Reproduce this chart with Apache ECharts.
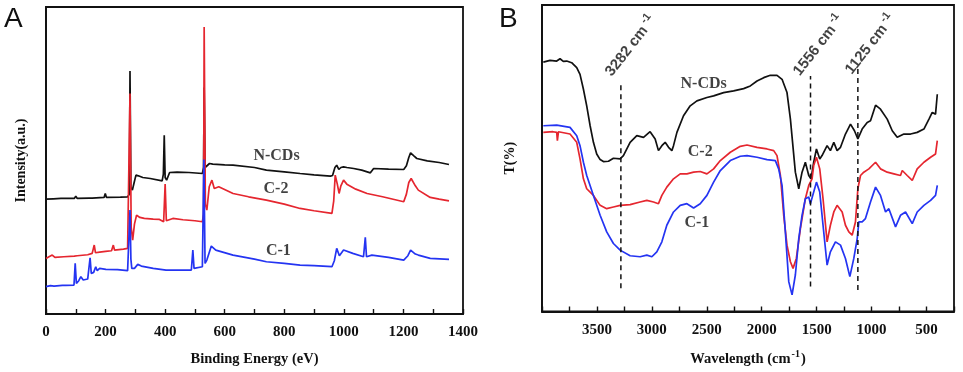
<!DOCTYPE html>
<html>
<head>
<meta charset="utf-8">
<script src="https://cdn.jsdelivr.net/npm/echarts@6/dist/echarts.min.js"></script>
<style>html,body{margin:0;padding:0;background:#fff;}#c{width:963px;height:372px;}</style>
</head>
<body>
<div id="c"></div>
<script>
// ---------- Panel A: XPS survey (Binding Energy eV, intensity a.u.) ----------
var xpsNCDs = [[0,345],[25,346],[50,347],[95,347],[100,354],[105,347],[145,348],[150,354],[155,348],[195,350],[199,362],[203,350],[250,351],[274,352],[280,360],[282,730],[285,380],[290,372],[296,395],[302,417],[310,415],[325,410],[350,407],[390,400],[394,420],[397,537],[400,410],[405,402],[415,425],[420,428],[440,426],[480,425],[525,422],[529,440],[531,680],[534,440],[540,440],[549,452],[560,450],[600,448],[628,447],[700,440],[740,432],[800,427],[853,422],[900,418],[955,414],[962,416],[970,440],[976,447],[983,434],[990,440],[999,442],[1010,440],[1033,437],[1060,432],[1089,424],[1095,426],[1100,437],[1150,435],[1201,434],[1210,445],[1218,470],[1224,484],[1235,475],[1245,467],[1280,460],[1320,455],[1353,449]];
var xpsC2 = [[0,167],[10,172],[21,177],[30,170],[60,172],[95,174],[100,180],[105,175],[140,178],[155,182],[162,207],[166,184],[180,186],[200,188],[220,190],[226,207],[230,192],[260,195],[274,197],[280,200],[282,662],[286,260],[291,222],[297,270],[304,297],[315,290],[330,287],[360,285],[381,284],[395,277],[400,390],[404,280],[426,287],[460,283],[500,280],[525,277],[529,300],[531,862],[535,330],[540,312],[548,382],[557,402],[565,377],[580,382],[628,362],[680,352],[740,342],[800,330],[853,317],[900,310],[960,302],[966,340],[971,417],[978,390],[984,362],[990,385],[999,402],[1010,390],[1040,375],[1078,362],[1130,352],[1201,337],[1210,360],[1218,395],[1226,407],[1240,385],[1250,372],[1290,350],[1320,345],[1353,340]];
var xpsC1 = [[0,82],[15,85],[21,90],[27,84],[55,86],[61,92],[66,86],[94,87],[98,152],[102,92],[110,100],[117,112],[125,102],[140,105],[145,107],[148,169],[152,122],[160,125],[167,142],[172,130],[180,137],[201,134],[240,133],[274,130],[280,135],[282,312],[285,165],[288,137],[297,137],[308,149],[320,144],[360,137],[403,132],[450,132],[488,132],[493,192],[497,137],[525,142],[530,464],[534,152],[540,162],[555,204],[570,192],[628,177],[700,165],[740,157],[800,152],[853,147],[900,145],[960,142],[968,160],[976,197],[985,175],[999,192],[1030,182],[1066,172],[1072,230],[1076,172],[1094,177],[1150,170],[1201,162],[1215,175],[1224,192],[1240,180],[1250,177],[1290,167],[1353,164]];
var xpsLabels = [["N-CDs",774,474],["C-2",772,377],["C-1",780,190]];

// ---------- Panel B: FTIR (wavenumber cm-1, transmittance a.u.) ----------
var ftirNCDs = [[3988,752],[3927,757],[3866,755],[3836,762],[3806,754],[3775,755],[3730,750],[3684,735],[3654,715],[3623,670],[3593,620],[3562,560],[3532,510],[3502,475],[3471,458],[3441,452],[3395,453],[3350,462],[3289,460],[3259,470],[3198,510],[3137,530],[3076,525],[3016,542],[2970,520],[2940,485],[2909,500],[2879,510],[2848,495],[2818,485],[2803,500],[2772,540],[2712,590],[2651,620],[2590,635],[2499,645],[2438,650],[2347,660],[2256,665],[2165,672],[2104,680],[2043,695],[1982,705],[1922,712],[1861,712],[1815,700],[1770,660],[1739,580],[1694,420],[1663,370],[1633,420],[1603,450],[1572,410],[1551,400],[1527,450],[1502,490],[1472,460],[1451,470],[1405,500],[1375,485],[1344,510],[1314,485],[1283,495],[1238,535],[1192,565],[1156,545],[1125,520],[1086,550],[1040,570],[1010,575],[995,590],[964,622],[919,610],[858,580],[812,545],[767,525],[706,535],[645,535],[585,540],[524,550],[478,580],[448,600],[418,595],[402,655]];
var ftirC2 = [[3988,540],[3900,542],[3866,540],[3860,515],[3850,542],[3745,535],[3684,510],[3654,460],[3623,400],[3593,370],[3532,350],[3471,320],[3411,310],[3350,315],[3289,320],[3198,322],[3107,330],[3046,335],[2985,330],[2940,325],[2909,350],[2864,375],[2803,400],[2742,415],[2681,415],[2620,420],[2560,422],[2499,415],[2438,430],[2377,455],[2286,480],[2195,498],[2134,502],[2043,495],[1952,490],[1891,485],[1861,470],[1830,410],[1800,290],[1770,200],[1739,150],[1715,130],[1685,160],[1648,250],[1603,340],[1572,380],[1542,400],[1527,440],[1502,465],[1472,430],[1442,340],[1405,210],[1375,260],[1344,300],[1314,320],[1268,300],[1238,260],[1207,240],[1177,230],[1147,270],[1125,370],[1101,410],[1071,420],[1025,430],[964,450],[919,430],[858,420],[797,415],[737,410],[721,425],[676,410],[630,395],[585,430],[524,450],[463,465],[418,475],[402,515]];
var ftirC1 = [[3988,560],[3866,562],[3745,555],[3684,530],[3654,500],[3623,450],[3593,410],[3532,350],[3471,290],[3411,240],[3350,205],[3289,185],[3198,168],[3107,165],[3046,170],[3000,165],[2955,180],[2909,210],[2864,260],[2803,300],[2742,320],[2681,325],[2620,312],[2560,325],[2499,350],[2438,390],[2377,425],[2286,455],[2195,468],[2134,470],[2043,465],[1952,458],[1876,455],[1846,430],[1815,380],[1785,240],[1754,90],[1724,50],[1694,110],[1663,220],[1633,290],[1603,340],[1572,345],[1557,325],[1527,360],[1502,390],[1472,360],[1442,260],[1405,140],[1375,180],[1329,210],[1283,200],[1238,160],[1198,105],[1162,160],[1131,220],[1116,270],[1086,270],[1056,280],[1010,330],[964,375],[919,350],[873,300],[843,310],[782,255],[737,290],[691,300],[630,265],[585,300],[524,320],[463,335],[418,350],[402,380]];
var ftirLabels = [["N-CDs",2529,685],["C-2",2560,480],["C-1",2590,268]];
var peakWavenumbers = [3282, 1556, 1125];
var peakLineRanges = [[70,690],[75,710],[65,735]];
var peakTextPos = [[3192,800],[1481,802],[1010,805]];

var RED = '#e5262f', BLUE = '#2434f2', BLACK = '#111';
var serif = '"Liberation Serif","Times New Roman",serif';
var sans = '"Liberation Sans",Arial,sans-serif';

function lineSeries(data, color, xi) {
  return {type:'line', data:data, xAxisIndex:xi, yAxisIndex:xi, symbol:'none',
    lineStyle:{color:color, width:1.7}, itemStyle:{color:color}, silent:true, animation:false, z:3};
}
function textSeries(list, xi) {
  return {type:'scatter', xAxisIndex:xi, yAxisIndex:xi, symbolSize:0, silent:true, animation:false, z:5,
    data:list.map(function(l){return {value:[l[1],l[2]], name:l[0]};}),
    label:{show:true, position:'inside', formatter:function(p){return p.name;},
      color:'#111', fontFamily:serif, fontWeight:'bold', fontSize:16}};
}

var series = [
  lineSeries(xpsNCDs, BLACK, 0), lineSeries(xpsC2, RED, 0), lineSeries(xpsC1, BLUE, 0),
  lineSeries(ftirNCDs, BLACK, 1), lineSeries(ftirC2, RED, 1), lineSeries(ftirC1, BLUE, 1),
  textSeries(xpsLabels, 0), textSeries(ftirLabels, 1)
];
peakWavenumbers.forEach(function(w, i){
  series.push({type:'line', xAxisIndex:1, yAxisIndex:1, symbol:'none', silent:true, animation:false, z:4,
    data:[[w, peakLineRanges[i][0]],[w, peakLineRanges[i][1]]],
    lineStyle:{color:'#111', width:1.5, type:[5,4]}});
  series.push({type:'scatter', xAxisIndex:1, yAxisIndex:1, symbolSize:0, silent:true, animation:false, z:5,
    data:[{value:peakTextPos[i], name:String(w)}],
    label:{show:true, position:'inside', rotate:52,
      formatter:function(p){return '{n|'+p.name+' cm}{s|-1}';},
      rich:{n:{fontFamily:sans, fontWeight:'bold', fontSize:15, color:'#111', lineHeight:18},
            s:{fontFamily:sans, fontWeight:'bold', fontSize:11, color:'#111', padding:[0,0,10,3]}}}});
});

var axisCommon = {
  axisLine:{show:true, onZero:false, lineStyle:{color:'#111', width:1.8}},
  splitLine:{show:false}
};

var option = {
  animation:false,
  backgroundColor:'#fff',
  grid:[
    {left:46, right:500, top:7, bottom:58, show:true, borderColor:'#111', borderWidth:1.8, backgroundColor:'transparent'},
    {left:542, right:9, top:5, bottom:59, show:true, borderColor:'#111', borderWidth:1.8, backgroundColor:'transparent'}
  ],
  xAxis:[
    Object.assign({}, axisCommon, {type:'value', gridIndex:0, min:0, max:1400, interval:100,
      axisTick:{show:true, inside:true, length:5, lineStyle:{color:'#111', width:1.4}},
      axisLabel:{margin:11, color:'#111', fontFamily:serif, fontWeight:'bold', fontSize:15,
        formatter:function(v){return v % 200 === 0 ? String(v) : '';}},
      name:'Binding Energy (eV)', nameLocation:'middle', nameGap:38,
      nameTextStyle:{color:'#111', fontFamily:serif, fontWeight:'bold', fontSize:14.5}}),
    Object.assign({}, axisCommon, {type:'value', gridIndex:1, min:250, max:4000, interval:250, inverse:true,
      axisTick:{show:true, inside:true, length:5, lineStyle:{color:'#111', width:1.4}},
      axisLabel:{margin:11, color:'#111', fontFamily:serif, fontWeight:'bold', fontSize:15,
        formatter:function(v){return (v % 500 === 0 && v < 4000) ? String(v) : '';}},
      name:'{n|Wavelength (cm}{s|-1}{n|)}', nameLocation:'middle', nameGap:38,
      nameTextStyle:{rich:{n:{color:'#111', fontFamily:serif, fontWeight:'bold', fontSize:14.5, lineHeight:18},
        s:{color:'#111', fontFamily:serif, fontWeight:'bold', fontSize:10, padding:[0,1,10,1]}}}})
  ],
  yAxis:[
    Object.assign({}, axisCommon, {type:'value', gridIndex:0, min:0, max:922,
      axisTick:{show:false}, axisLabel:{show:false},
      name:'Intensity(a.u.)', nameLocation:'middle', nameGap:18,
      nameTextStyle:{color:'#111', fontFamily:serif, fontWeight:'bold', fontSize:14}}),
    Object.assign({}, axisCommon, {type:'value', gridIndex:1, min:0, max:924,
      axisTick:{show:false}, axisLabel:{show:false},
      name:'T(%)', nameLocation:'middle', nameGap:25,
      nameTextStyle:{color:'#111', fontFamily:serif, fontWeight:'bold', fontSize:14}})
  ],
  graphic:[
    {type:'text', left:4, top:5, style:{text:'A', font:'28px "Liberation Sans", Arial, sans-serif', fill:'#111'}},
    {type:'text', left:499, top:5, style:{text:'B', font:'28px "Liberation Sans", Arial, sans-serif', fill:'#111'}}
  ],
  series:series
};

var chart = echarts.init(document.getElementById('c'), null, {renderer:'canvas'});
chart.setOption(option);
</script>
</body>
</html>
